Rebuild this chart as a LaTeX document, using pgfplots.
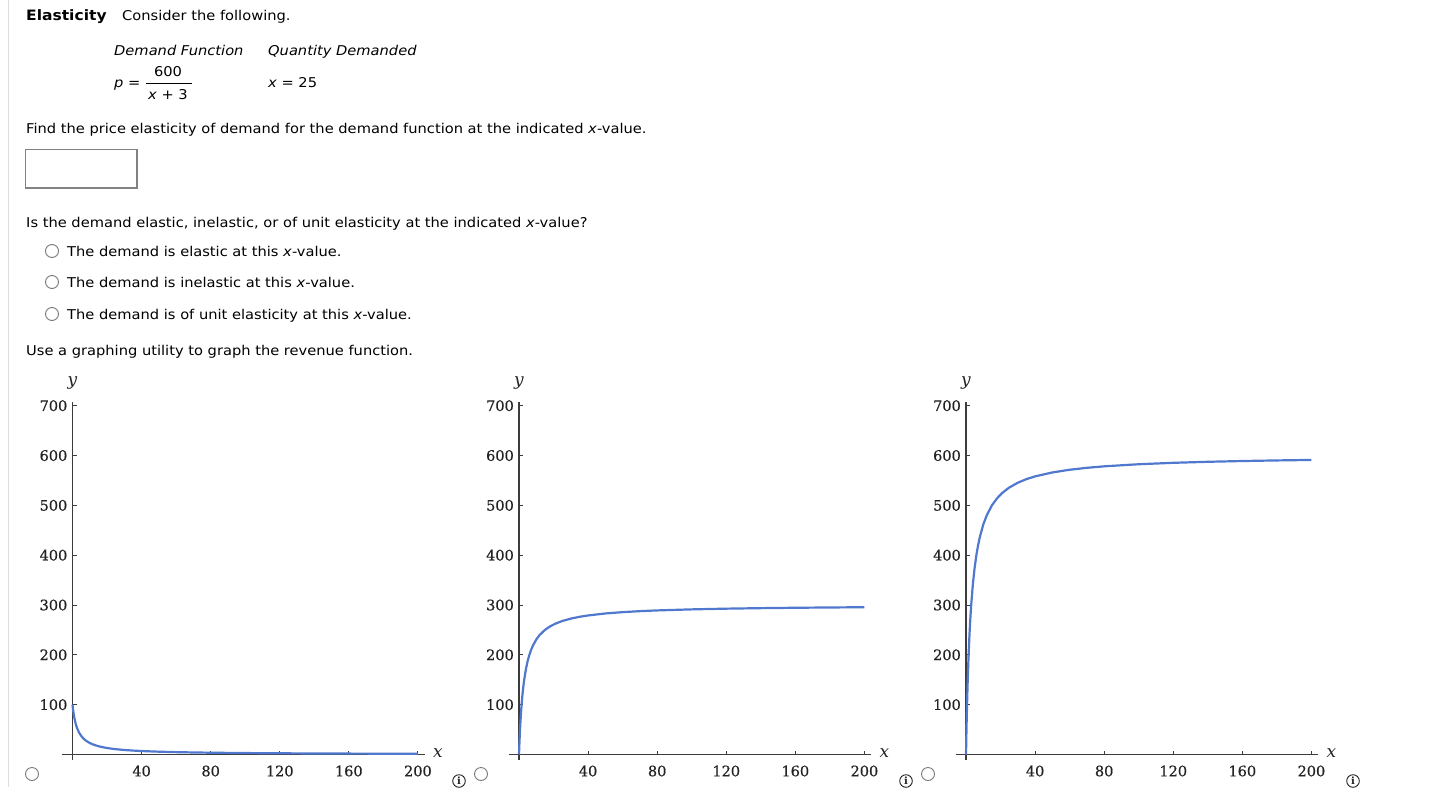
\documentclass[border=0pt]{standalone}
\usepackage{fontspec}
\setmainfont{DejaVu Sans}[FakeStretch=1.085]
\newfontfamily\serifnum{DejaVu Serif}[FakeBold=0.5]
\newfontfamily\serifplain{DejaVu Serif}
\usepackage{pgfplots}
\pgfplotsset{compat=1.18}
\definecolor{axisgray}{RGB}{60,60,60}
\definecolor{curveblue}{RGB}{80,120,206}
\definecolor{labelgray}{RGB}{35,35,35}
\definecolor{boxgray}{RGB}{130,130,130}
\definecolor{radiogray}{RGB}{120,120,120}
\newcommand\tickfont{\fontsize{14.5pt}{16pt}\selectfont\serifnum}
\newcommand\axlabfont{\fontsize{17pt}{18pt}\selectfont\serifplain\itshape}
\pgfplotsset{rev/.style={
  axis lines=middle, x=1.727pt, y=0.4983pt,
  xmin=-6, xmax=204, ymin=-12, ymax=708,
  xtick={40,80,120,160,200}, ytick={100,200,300,400,500,600,700},
  tick align=inside, major tick length=4pt,
  axis line style={-, draw=axisgray, line width=1.1pt},
  every tick/.style={draw=axisgray, line width=0.9pt},
  /pgf/number format/assume math mode=true,
  ticklabel style={font=\tickfont, text=labelgray, inner sep=0pt},
  xticklabel style={anchor=center, yshift=-16.5pt},
  yticklabel style={anchor=east, xshift=-5pt},
  xlabel={x}, ylabel={y},
  every axis x label/.style={at={(rel axis cs:1.036,0.021)}, anchor=center, font=\axlabfont, text=labelgray},
  every axis y label/.style={at={(rel axis cs:0.0286,1.052)}, anchor=center, font=\axlabfont, text=labelgray},
  clip=false, anchor=south west}}
\pgfplotstableread{
x y1 y2 y3
0 100 0 0
0.25 92.31 23.08 46.15
0.5 85.71 42.86 85.71
0.75 80 60 120
1 75 75 150
1.5 66.67 100 200
2 60 120 240
2.5 54.55 136.36 272.73
3 50 150 300
4 42.86 171.43 342.86
5 37.5 187.5 375
6 33.33 200 400
7 30 210 420
8 27.27 218.18 436.36
10 23.08 230.77 461.54
12 20 240 480
15 16.67 250 500
18 14.29 257.14 514.29
21 12.5 262.5 525
25 10.71 267.86 535.71
30 9.09 272.73 545.45
35 7.89 276.32 552.63
40 6.98 279.07 558.14
50 5.66 283.02 566.04
60 4.76 285.71 571.43
70 4.11 287.67 575.34
80 3.61 289.16 578.31
100 2.91 291.26 582.52
120 2.44 292.68 585.37
140 2.10 293.71 587.41
160 1.84 294.48 588.96
180 1.64 295.08 590.16
200 1.48 295.57 591.13
}\revdata
\begin{document}
\begin{tikzpicture}
\path[use as bounding box, fill=white] (0pt,0pt) rectangle (1432pt,-787pt);
\draw[line width=1pt, black!13] (8pt,0pt) -- (8pt,-787pt);
\begin{scope}[every node/.style={anchor=base west, inner sep=0pt, font=\fontsize{13.5pt}{15pt}\selectfont}]
\node at (26pt,-20pt) {\bfseries\fontsize{14.3pt}{16pt}\selectfont Elasticity};
\node at (122pt,-20pt) {Consider the following.};
\node at (114pt,-55pt) {\itshape Demand Function};
\node at (268pt,-55pt) {\itshape Quantity Demanded};
\node at (114pt,-87pt) {\itshape p\upshape\ =};
\node[anchor=base] at (168pt,-76pt) {600};
\node[anchor=base] at (168pt,-99pt) {\itshape x\upshape\ + 3};
\node at (268pt,-87pt) {\itshape x\upshape\ = 25};
\node at (26pt,-133pt) {Find the price elasticity of demand for the demand function at the indicated \textit{x}-value.};
\node at (26pt,-227pt) {Is the demand elastic, inelastic, or of unit elasticity at the indicated \textit{x}-value?};
\node at (67pt,-256pt) {The demand is elastic at this \textit{x}-value.};
\node at (67pt,-287pt) {The demand is inelastic at this \textit{x}-value.};
\node at (67pt,-319pt) {The demand is of unit elasticity at this \textit{x}-value.};
\node at (26pt,-355pt) {Use a graphing utility to graph the revenue function.};
\end{scope}
\draw[line width=0.8pt] (146pt,-83pt) -- (192pt,-83pt);
\draw[boxgray, line width=1.3pt] (25.5pt,-149.5pt) rectangle (137pt,-188pt);
\foreach \yy in {251,282,314} \draw[radiogray, line width=0.9pt] (52pt,-\yy pt) circle (6.5pt);
\foreach \xx in {32,481,928} \draw[radiogray, line width=0.9pt] (\xx pt,-774pt) circle (6.5pt);
\foreach \xx in {459,906,1353} {
  \draw[labelgray, line width=0.9pt] (\xx pt,-781pt) circle (6.3pt);
  \node[inner sep=0pt, text=labelgray, font=\fontsize{10pt}{10pt}\selectfont\serifplain\bfseries] at (\xx pt,-781pt) {i};
}
\begin{axis}[rev, at={(62.14pt,-760.48pt)}]
\addplot[curveblue, line width=2.2pt] table[x=x, y=y1] {\revdata};
\end{axis}
\begin{axis}[rev, at={(508.64pt,-760.48pt)}]
\addplot[curveblue, line width=2.2pt] table[x=x, y=y2] {\revdata};
\end{axis}
\begin{axis}[rev, at={(955.64pt,-760.48pt)}]
\addplot[curveblue, line width=2.2pt] table[x=x, y=y3] {\revdata};
\end{axis}
\end{tikzpicture}
\end{document}
